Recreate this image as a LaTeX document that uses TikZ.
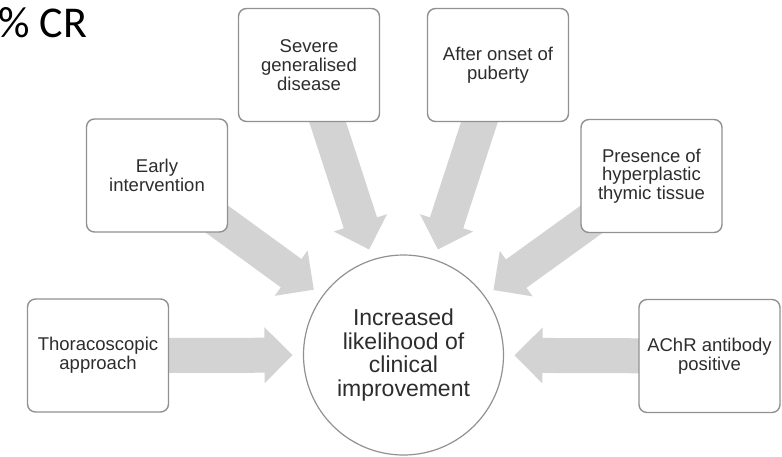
\documentclass[tikz,border=0pt]{standalone}
\usepackage{fontspec}
\setmainfont{Liberation Sans}
\newfontfamily\crfont{Carlito}
\usetikzlibrary{calc,backgrounds}
\definecolor{arrowgray}{RGB}{211,211,211}
\definecolor{boxline}{RGB}{145,145,145}
\definecolor{txt}{RGB}{45,45,45}
\newcommand\bigarrow[1]{%
  \coordinate (tip) at ($(hub.center)!111pt!(#1.center)$);
  \coordinate (hb) at ($(tip)!28pt!(#1.center)$);
  \fill[arrowgray] ($(#1.center)!17.5pt!90:(tip)$) -- ($(hb)!17.5pt!90:(tip)$)
    -- ($(hb)!28pt!90:(tip)$) -- (tip) -- ($(hb)!28pt!-90:(tip)$)
    -- ($(hb)!17.5pt!-90:(tip)$) -- ($(#1.center)!17.5pt!-90:(tip)$) -- cycle;}
\begin{document}
\begin{tikzpicture}[x=1pt,y=-1pt,
  box/.style={draw=boxline, line width=1.4pt, rounded corners=8pt, fill=white,
    minimum width=141pt, minimum height=113pt, align=center, text=txt,
    font=\fontsize{18.5}{18.7}\selectfont, inner sep=0pt},
  hub/.style={circle, draw=boxline, line width=1.2pt, fill=white,
    minimum size=200pt, align=center, text=txt,
    font=\fontsize{23}{23.5}\selectfont, inner sep=0pt}]
\useasboundingbox (0,0) rectangle (782,456);
\node[anchor=base east, inner sep=0pt, font={\fontsize{44}{44}\selectfont\crfont}] (cr) at (87.5,37) {\% CR};
\node[hub] (hub) at (403.5,355) {Increased\\likelihood of\\clinical\\improvement};
\node[box] (b1) at (98,355.5) {Thoracoscopic\\approach};
\node[box] (b2) at (157,175.5) {Early\\intervention};
\node[box] (b3) at (309,65) {Severe\\generalised\\disease};
\node[box] (b4) at (498,65) {After onset of\\puberty};
\node[box] (b5) at (651.5,176) {Presence of\\hyperplastic\\thymic tissue};
\node[box] (b6) at (709.5,356) {AChR antibody\\positive};
\begin{scope}[on background layer]
  \bigarrow{b1}
  \bigarrow{b2}
  \bigarrow{b3}
  \bigarrow{b4}
  \bigarrow{b5}
  \bigarrow{b6}
\end{scope}
\end{tikzpicture}
\end{document}
